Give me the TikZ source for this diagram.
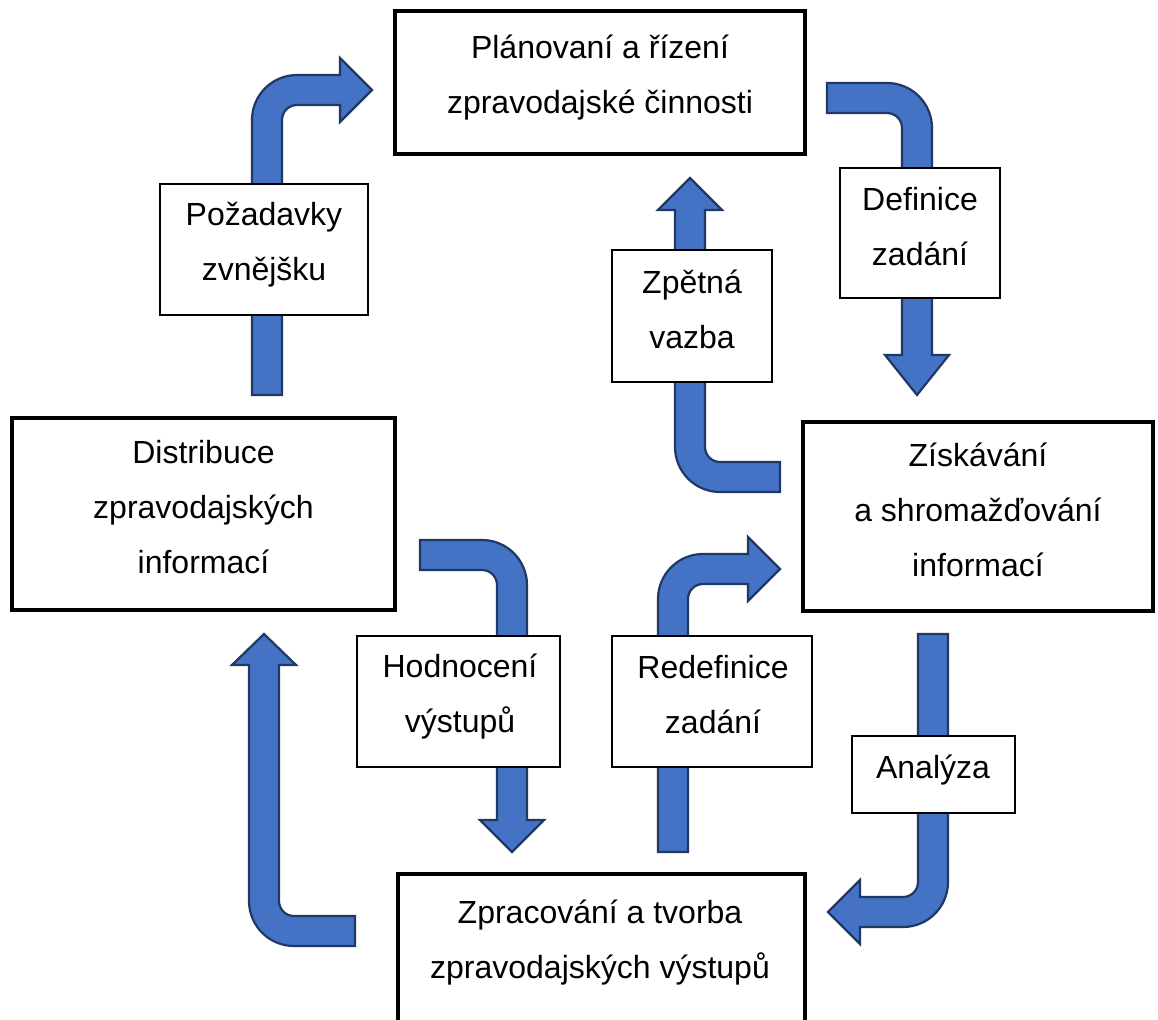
\documentclass[tikz,border=0pt]{standalone}
\usepackage{fontspec}
\setmainfont{Liberation Sans}
\definecolor{arrowfill}{HTML}{4472C4}
\definecolor{arrowline}{HTML}{1F3864}
\begin{document}
\begin{tikzpicture}[x=1pt,y=-1pt,
  mainbox/.style={draw=black, line width=3.5pt, fill=white, inner sep=0pt},
  labelbox/.style={draw=black, line width=1.8pt, fill=white, inner sep=0pt},
  txt/.style={font=\fontsize{32}{55}\selectfont, align=center, inner sep=0pt},
  blockarrow/.style={fill=arrowfill, draw=arrowline, line width=2.2pt, line join=miter}]
\useasboundingbox (0,0) rectangle (1158,1019);
\fill[white] (0,0) rectangle (1158,1019);

% block arrows
\draw[blockarrow] (252,395) -- (252,120) arc[start angle=180,end angle=270,radius=45]
  -- (340,75) -- (340,58) -- (372,90) -- (340,122) -- (340,105) -- (297,105)
  arc[start angle=270,end angle=180,radius=15] -- (282,395) -- cycle;
\draw[blockarrow] (827,83) -- (887,83) arc[start angle=270,end angle=360,radius=45]
  -- (932,355) -- (949,355) -- (917,395) -- (885,355) -- (902,355) -- (902,128)
  arc[start angle=0,end angle=-90,radius=15] -- (827,113) -- cycle;
\draw[blockarrow] (780,492) -- (720,492) arc[start angle=90,end angle=180,radius=45]
  -- (675,210) -- (658,210) -- (690,178) -- (722,210) -- (705,210) -- (705,447)
  arc[start angle=180,end angle=90,radius=15] -- (780,462) -- cycle;
\draw[blockarrow] (420,540) -- (482,540) arc[start angle=270,end angle=360,radius=45]
  -- (527,820) -- (544,820) -- (512,852) -- (480,820) -- (497,820) -- (497,585)
  arc[start angle=0,end angle=-90,radius=15] -- (420,570) -- cycle;
\draw[blockarrow] (658,852) -- (658,599) arc[start angle=180,end angle=270,radius=45]
  -- (748,554) -- (748,537) -- (780,569) -- (748,601) -- (748,584) -- (703,584)
  arc[start angle=270,end angle=180,radius=15] -- (688,852) -- cycle;
\draw[blockarrow] (918,634) -- (948,634) -- (948,882) arc[start angle=0,end angle=90,radius=45]
  -- (860,927) -- (860,944) -- (828,912) -- (860,880) -- (860,897) -- (903,897)
  arc[start angle=90,end angle=0,radius=15] -- cycle;
\draw[blockarrow] (355,946) -- (294,946) arc[start angle=90,end angle=180,radius=45]
  -- (249,665) -- (232,665) -- (264,634) -- (296,665) -- (279,665) -- (279,901)
  arc[start angle=180,end angle=90,radius=15] -- (355,916) -- cycle;

% label boxes
\node[labelbox, minimum width=208pt, minimum height=131pt] (pozad) at (264,249.5) {};
\node[labelbox, minimum width=160pt, minimum height=130pt] (defin) at (920,233) {};
\node[labelbox, minimum width=160pt, minimum height=132pt] (zpetna) at (692,316) {};
\node[labelbox, minimum width=203pt, minimum height=131pt] (hodn) at (458.5,701.5) {};
\node[labelbox, minimum width=200pt, minimum height=131pt] (redef) at (712,701.5) {};
\node[labelbox, minimum width=163pt, minimum height=77pt] (analyza) at (933.5,774.5) {};

% main boxes
\node[mainbox, minimum width=410pt, minimum height=143pt] (plan) at (600,82.5) {};
\node[mainbox, minimum width=383pt, minimum height=192pt] (distr) at (203.5,514) {};
\node[mainbox, minimum width=350pt, minimum height=189pt] (zisk) at (978,516.5) {};
\node[mainbox, minimum width=407pt, minimum height=152pt] (zprac) at (601.5,950) {};

% texts
\node[txt] (plan-t) at (600,75.5) {\strut Plánovaní a řízení\\\strut zpravodajské činnosti};
\node[txt] (distr-t) at (203.5,507) {\strut Distribuce\\\strut zpravodajských\\\strut informací};
\node[txt] (zisk-t) at (978,510) {\strut Získávání\\\strut a shromažďování\\\strut informací};
\node[txt] (zprac-t) at (600,939.5) {\strut Zpracování a tvorba\\\strut zpravodajských výstupů};
\node[txt] (pozad-t) at (264,241.5) {\strut Požadavky\\\strut zvnějšku};
\node[txt] (defin-t) at (920,227) {\strut Definice\\\strut zadání};
\node[txt] (zpetna-t) at (692,309.5) {\strut Zpětná\\\strut vazba};
\node[txt] (hodn-t) at (460,693.5) {\strut Hodnocení\\\strut výstupů};
\node[txt] (redef-t) at (713,694.5) {\strut Redefinice\\\strut zadání};
\node[txt] (analyza-t) at (933,767) {\strut Analýza};
\end{tikzpicture}
\end{document}
